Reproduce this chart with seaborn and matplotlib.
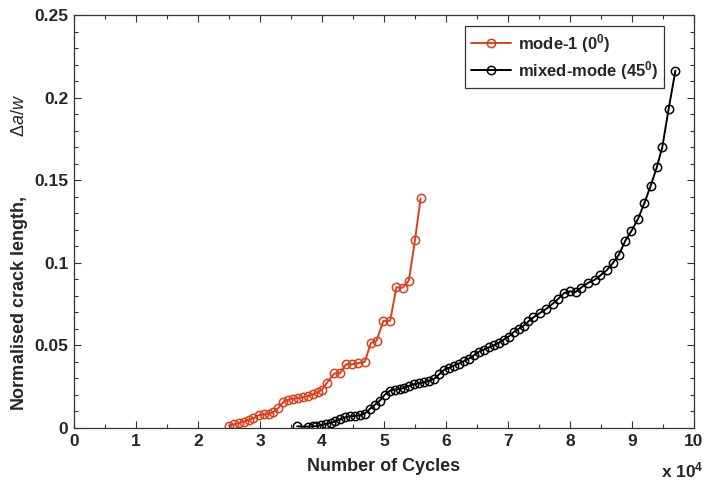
import matplotlib
matplotlib.use("Agg")
import matplotlib.pyplot as plt
import seaborn as sns
from matplotlib.ticker import MultipleLocator, FuncFormatter

# Number of cycles (in units of 1e4) and normalised crack length
mode1_cycles = [2.50, 2.58, 2.66, 2.74, 2.82, 2.89, 2.98, 3.06, 3.14, 3.21,
                3.29, 3.37, 3.45, 3.53, 3.61, 3.69, 3.77, 3.85, 3.93, 4.00,
                4.08, 4.20, 4.29, 4.39, 4.49, 4.58, 4.69, 4.79, 4.88, 4.99,
                5.10, 5.20, 5.30, 5.40, 5.50, 5.59]
mode1_crack = [0.0014, 0.0022, 0.0030, 0.0038, 0.0048, 0.0058, 0.0078, 0.0082, 0.0084, 0.0095,
               0.0119, 0.0155, 0.0170, 0.0177, 0.0181, 0.0186, 0.0193, 0.0203, 0.0215, 0.0232,
               0.0274, 0.0331, 0.0331, 0.0386, 0.0386, 0.0392, 0.0401, 0.0516, 0.0528, 0.0648,
               0.0650, 0.0852, 0.0849, 0.0892, 0.1138, 0.1390]

mixed_cycles = [3.60, 3.77, 3.85, 3.91, 3.99, 4.06, 4.14, 4.21, 4.29, 4.37,
                4.45, 4.53, 4.61, 4.69, 4.77, 4.85, 4.93, 5.01, 5.09, 5.17,
                5.25, 5.33, 5.41, 5.49, 5.57, 5.65, 5.73, 5.81, 5.89, 5.97,
                6.05, 6.13, 6.21, 6.29, 6.37, 6.45, 6.53, 6.61, 6.69, 6.77,
                6.85, 6.93, 7.01, 7.09, 7.17, 7.25, 7.33, 7.41, 7.51, 7.62,
                7.72, 7.81, 7.90, 8.00, 8.09, 8.18, 8.29, 8.40, 8.49, 8.59,
                8.69, 8.79, 8.89, 8.99, 9.10, 9.20, 9.30, 9.40, 9.49, 9.59, 9.70]
mixed_crack = [0.0010, 0.0008, 0.0010, 0.0012, 0.0018, 0.0024, 0.0030, 0.0040, 0.0052, 0.0064,
               0.0071, 0.0072, 0.0077, 0.0087, 0.0115, 0.0140, 0.0165, 0.0200, 0.0225, 0.0232,
               0.0236, 0.0243, 0.0256, 0.0265, 0.0271, 0.0276, 0.0286, 0.0298, 0.0325, 0.0352,
               0.0364, 0.0378, 0.0390, 0.0405, 0.0420, 0.0440, 0.0462, 0.0475, 0.0488, 0.0500,
               0.0515, 0.0535, 0.0553, 0.0580, 0.0600, 0.0620, 0.0645, 0.0670, 0.0695, 0.0722,
               0.0752, 0.0782, 0.0815, 0.0827, 0.0823, 0.0850, 0.0878, 0.0898, 0.0924, 0.0954,
               0.0998, 0.1050, 0.1132, 0.1192, 0.1268, 0.1362, 0.1465, 0.1578, 0.1703, 0.1929, 0.2163]

series_labels = ["mode-1 (0$^{\\mathbf{0}}$)", "mixed-mode (45$^{\\mathbf{0}}$)"]
x_label = "Number of Cycles"
y_label = "Normalised crack length,            $\\Delta a/w$"
x_ticks = list(range(0, 11))
y_ticks = [0, 0.05, 0.1, 0.15, 0.2, 0.25]

sns.set_theme(style="white")
plt.rcParams["font.family"] = ["Liberation Sans", "DejaVu Sans"]
plt.rcParams["mathtext.fontset"] = "custom"
plt.rcParams["mathtext.rm"] = "Liberation Sans"
plt.rcParams["mathtext.it"] = "Liberation Sans:italic"
plt.rcParams["mathtext.bf"] = "Liberation Sans:bold"

fig = plt.figure(figsize=(7.07, 4.86), dpi=100)
ax = fig.add_axes([74 / 707, 1 - 428 / 486, 620 / 707, 413 / 486])

red = "#DE3F1A"
sns.lineplot(x=mode1_cycles, y=mode1_crack, ax=ax, color=red, marker="o",
             markersize=6, markerfacecolor="none", markeredgecolor=red,
             markeredgewidth=1.1, linewidth=1.4, sort=False, label=series_labels[0])
sns.lineplot(x=mixed_cycles, y=mixed_crack, ax=ax, color="black", marker="o",
             markersize=6, markerfacecolor="none", markeredgecolor="black",
             markeredgewidth=1.1, linewidth=1.4, sort=False, label=series_labels[1])

ax.set_xlim(0, 10)
ax.set_ylim(0, 0.25)
ax.set_xticks(x_ticks)
ax.set_yticks(y_ticks)
ax.xaxis.set_minor_locator(MultipleLocator(0.5))
ax.yaxis.set_minor_locator(MultipleLocator(0.01))
ax.yaxis.set_major_formatter(FuncFormatter(lambda v, p: f"{v:g}"))
ax.tick_params(which="both", direction="in", top=True, right=True,
               bottom=True, left=True, color="#333333", width=0.8)
ax.tick_params(which="major", length=5, labelsize=12.5, pad=4)
ax.tick_params(which="minor", length=3)
for lab in ax.get_xticklabels() + ax.get_yticklabels():
    lab.set_fontweight("bold")
for s in ax.spines.values():
    s.set_color("#333333")
    s.set_linewidth(0.9)
    s.set_visible(True)

ax.set_xlabel(x_label, fontsize=13, fontweight="bold", labelpad=7)
ax.set_ylabel(y_label, fontsize=13, fontweight="bold")
ax.yaxis.set_label_coords(-0.071, 0.426)
fig.text(682 / 707, 1 - 470 / 486, "x 10$^{\\mathbf{4}}$", fontsize=12.5,
         fontweight="bold", ha="center", va="center")

leg = ax.legend(loc="upper right", bbox_to_anchor=((664 - 74) / 620, (428 - 26) / 413),
                borderaxespad=0, fancybox=False, edgecolor="#333333", framealpha=1,
                prop={"weight": "bold", "size": 12}, handlelength=2.4,
                borderpad=0.35, labelspacing=0.25, handletextpad=0.4)
leg.get_frame().set_linewidth(0.9)

fig.savefig("out.png", dpi=100, facecolor="white")
